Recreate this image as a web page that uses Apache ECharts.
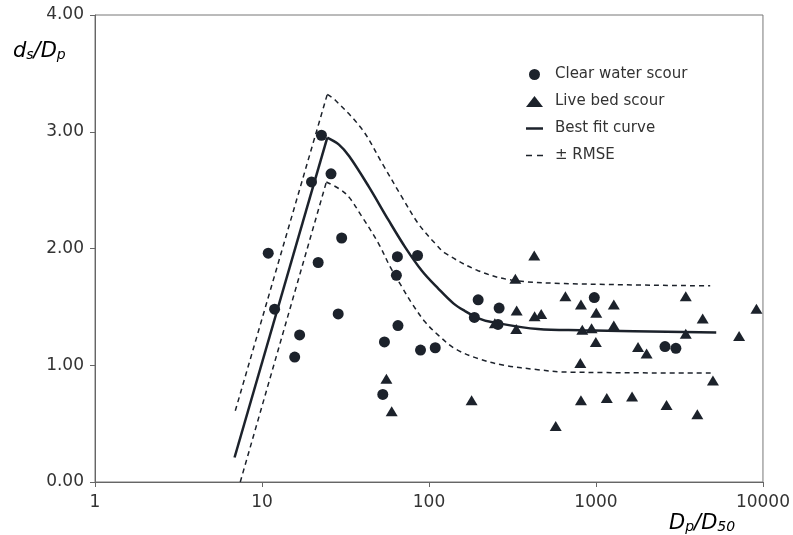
<!DOCTYPE html>
<html>
<head>
<meta charset="utf-8">
<script src="https://cdn.jsdelivr.net/npm/echarts@6/dist/echarts.min.js"></script>
<style>
  html, body { margin: 0; padding: 0; background: #fff; }
  #scourChart { width: 793px; height: 535px; }
</style>
</head>
<body>
<div id="scourChart"></div>
<script>
// 刻度标签
const xTickLabels = ['1', '10', '100', '1000', '10000'];
const yTickLabels = ['0.00', '1.00', '2.00', '3.00', '4.00'];

// 清水冲刷 [Dp/D50, ds/Dp]
const clearWater = [
  [22.7, 2.97], [19.8, 2.57], [25.9, 2.64], [30.0, 2.09], [10.9, 1.96],
  [21.7, 1.88], [64.7, 1.93], [85.4, 1.94], [63.8, 1.77], [11.9, 1.48],
  [28.6, 1.44], [16.8, 1.26], [15.7, 1.07], [65.2, 1.34], [54.1, 1.20],
  [89, 1.13], [109, 1.15], [52.9, 0.75], [197, 1.56], [263, 1.49],
  [187, 1.41], [259, 1.35], [977, 1.58], [2590, 1.16], [3010, 1.145]
];

// 动床冲刷
const liveBed = [
  [55.6, 0.885], [59.8, 0.607], [427, 1.94], [329, 1.74], [335, 1.47],
  [429, 1.42], [470, 1.44], [248, 1.36], [333, 1.31], [656, 1.59],
  [813, 1.52], [1004, 1.45], [1279, 1.52], [828, 1.305], [941, 1.316],
  [1279, 1.34], [998, 1.20], [806, 1.02], [180, 0.70], [813, 0.70],
  [1161, 0.72], [574, 0.48], [3450, 1.59], [4355, 1.40], [9140, 1.485],
  [3450, 1.27], [7196, 1.25], [1786, 1.156], [2010, 1.10], [5017, 0.87],
  [1645, 0.733], [2646, 0.659], [4046, 0.581]
];

// 拟合曲线（上升段 / 下降段）
const fitRise = [[6.85, 0.21], [24.6, 2.95]];
const fitFall = [
  [24.6, 2.95], [28.9, 2.89], [33.3, 2.79], [43.6, 2.53], [57.4, 2.24],
  [72.1, 2.01], [90.6, 1.81], [114, 1.655], [140, 1.53], [164, 1.465],
  [200, 1.40], [237, 1.37], [449, 1.31], [813, 1.30], [5250, 1.28]
];

// +RMSE
const upperRise = [[6.92, 0.61], [24.6, 3.32]];
const upperFall = [
  [24.6, 3.32], [27.5, 3.27], [39.8, 3.02], [52.4, 2.73], [68.9, 2.44],
  [86.6, 2.21], [111, 2.03], [125, 1.96], [197, 1.81], [311, 1.73],
  [648, 1.70], [4830, 1.68]
];

// -RMSE
const lowerRise = [[7.41, 0.0], [24.3, 2.57]];
const lowerFall = [
  [24.3, 2.57], [31.7, 2.47], [39.8, 2.27], [50, 2.04], [58.7, 1.84],
  [68.9, 1.67], [79, 1.53], [94.9, 1.37], [114, 1.256], [143, 1.142],
  [197, 1.057], [284, 0.999], [449, 0.962], [648, 0.942], [4950, 0.933]
];

const ink = '#1c222b';
const textColor = '#333';
const font = 'DejaVu Sans';

function curve(name, data, dashed, smooth) {
  return {
    name: name,
    type: 'line',
    data: data,
    symbol: 'none',
    smooth: smooth,
    lineStyle: {
      color: ink,
      width: dashed ? 1.5 : 2.5,
      type: dashed ? [5, 4] : 'solid'
    },
    itemStyle: { color: ink },
    z: 2
  };
}

const myChart = echarts.init(document.getElementById('scourChart'));
const option = {
  animation: false,
  grid: {
    left: 95, right: 27, top: 15, bottom: 53,
    show: true, borderColor: '#777', borderWidth: 1
  },
  legend: {
    orient: 'vertical',
    left: 521,
    top: 62,
    itemWidth: 17,
    itemHeight: 11,
    itemGap: 12,
    data: [
      { name: 'Clear water scour' },
      { name: 'Live bed scour' },
      { name: 'Best fit curve', icon: 'path://M0,0 H17 V2.5 H0 Z' },
      { name: '± RMSE', icon: 'path://M0,0 H6 V1.6 H0 Z M11,0 H17 V1.6 H11 Z' }
    ],
    textStyle: { fontFamily: font, fontSize: 15, color: textColor, padding: [0, 0, 0, 7] }
  },
  xAxis: {
    type: 'log',
    logBase: 10,
    min: 1,
    max: 10000,
    axisLine: { lineStyle: { color: '#666' } },
    axisTick: { show: true, inside: false, length: 5, lineStyle: { color: '#666' } },
    minorTick: { show: false },
    splitLine: { show: false },
    axisLabel: {
      margin: 12,
      fontFamily: font,
      fontSize: 17,
      color: textColor,
      formatter: function (v) {
        return xTickLabels[Math.round(Math.log10(v))];
      }
    }
  },
  yAxis: {
    type: 'value',
    min: 0,
    max: 4,
    interval: 1,
    axisLine: { show: true, lineStyle: { color: '#666' } },
    axisTick: { show: true, length: 5, lineStyle: { color: '#666' } },
    splitLine: { show: false },
    axisLabel: {
      margin: 11,
      fontFamily: font,
      fontSize: 17,
      color: textColor,
      formatter: function (v) {
        return yTickLabels[Math.round(v)];
      }
    }
  },
  graphic: [
    {
      type: 'text',
      left: 13,
      top: 41,
      style: {
        text: '{a|d}{s|s}{a|/D}{s|p}',
        rich: {
          a: { fontFamily: font, fontStyle: 'italic', fontSize: 21, color: textColor },
          s: { fontFamily: font, fontStyle: 'italic', fontSize: 14, color: textColor, verticalAlign: 'bottom', padding: [6, 0, 0, 0] }
        }
      }
    },
    {
      type: 'text',
      left: 669,
      top: 513,
      style: {
        text: '{a|D}{s|p}{a|/D}{s|50}',
        rich: {
          a: { fontFamily: font, fontStyle: 'italic', fontSize: 21, color: textColor },
          s: { fontFamily: font, fontStyle: 'italic', fontSize: 14, color: textColor, verticalAlign: 'bottom', padding: [6, 0, 0, 0] }
        }
      }
    }
  ],
  series: [
    curve('Best fit curve', fitRise, false, false),
    curve('Best fit curve', fitFall, false, 0.35),
    curve('± RMSE', upperRise, true, false),
    curve('± RMSE', upperFall, true, 0.35),
    curve('± RMSE', lowerRise, true, false),
    curve('± RMSE', lowerFall, true, 0.35),
    {
      name: 'Clear water scour',
      type: 'scatter',
      data: clearWater,
      symbol: 'circle',
      symbolSize: 11,
      itemStyle: { color: ink, opacity: 1 },
      z: 3
    },
    {
      name: 'Live bed scour',
      type: 'scatter',
      data: liveBed,
      symbol: 'triangle',
      symbolSize: [12, 10],
      itemStyle: { color: ink, opacity: 1 },
      z: 3
    }
  ]
};
myChart.setOption(option);
window.addEventListener('resize', function () {
  myChart.resize();
});
</script>
</body>
</html>
